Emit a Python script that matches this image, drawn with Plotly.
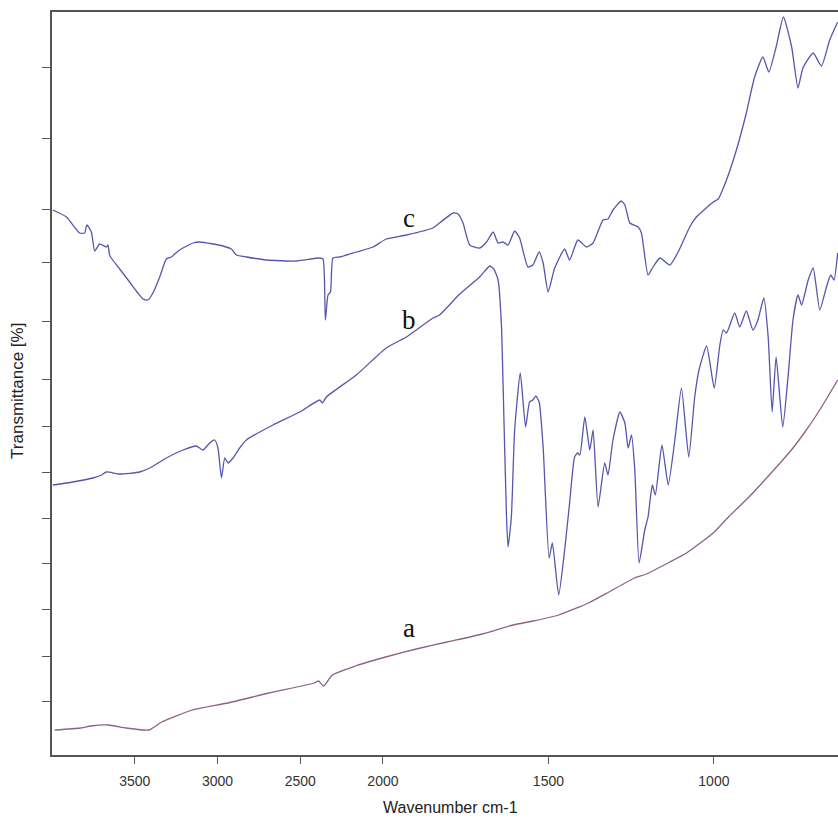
import plotly.graph_objects as go

# FTIR spectra (wavenumber in cm-1, transmittance in stacked arbitrary % units)
wn_c = [3995, 3913, 3833, 3803, 3789, 3762, 3742, 3712, 3672, 3662, 3652, 3642, 3591, 3531,
        3481, 3450, 3420, 3390, 3349, 3309, 3279, 3229, 3148, 3108, 3027, 2967, 2916, 2886,
        2825, 2704, 2523, 2382, 2362, 2348, 2332, 2317, 2302, 2261, 2160, 2060, 1990, 1929,
        1849, 1829, 1788, 1773, 1758, 1738, 1708, 1687, 1667, 1652, 1637, 1622, 1602, 1587,
        1562, 1547, 1528, 1516, 1501, 1481, 1451, 1436, 1411, 1385, 1365, 1335, 1320, 1305,
        1280, 1269, 1254, 1229, 1219, 1199, 1184, 1163, 1133, 1108, 1073, 1053, 1002, 987,
        962, 932, 902, 877, 852, 834, 812, 790, 765, 746, 731, 700, 675, 650, 626]
tr_c = [54.5, 53.8, 52.2, 52.2, 53.0, 52.3, 50.4, 51.1, 50.8, 51.0, 50.0, 49.7, 48.6, 47.3,
        46.2, 45.6, 45.5, 46.2, 47.8, 49.6, 49.8, 50.5, 51.2, 51.3, 51.1, 50.9, 50.6, 50.0,
        49.8, 49.5, 49.4, 49.7, 49.6, 43.5, 46.0, 46.3, 49.7, 49.8, 50.3, 50.8, 51.6, 52.0,
        52.7, 53.2, 54.2, 54.1, 53.2, 51.0, 50.7, 51.3, 52.3, 51.2, 51.3, 51.0, 52.4, 51.7,
        48.8, 49.0, 50.3, 49.2, 46.3, 48.7, 50.6, 49.5, 51.5, 50.8, 51.2, 53.5, 53.6, 54.5,
        55.4, 55.0, 53.2, 52.8, 52.2, 48.0, 48.8, 49.7, 49.0, 50.3, 52.8, 53.8, 55.3, 55.6,
        57.5, 60.5, 64.2, 67.8, 69.8, 68.3, 70.8, 73.8, 70.8, 66.7, 68.7, 70.2, 68.9, 71.5, 73.3]

wn_b = [3995, 3874, 3753, 3700, 3672, 3591, 3470, 3410, 3309, 3208, 3128, 3088, 3047, 3017,
        2997, 2976, 2956, 2936, 2906, 2866, 2825, 2665, 2503, 2382, 2366, 2342, 2161, 1990,
        1929, 1899, 1849, 1829, 1768, 1708, 1677, 1665, 1652, 1642, 1637, 1627, 1622, 1612,
        1602, 1585, 1569, 1557, 1547, 1538, 1528, 1516, 1498, 1488, 1469, 1451, 1436, 1421,
        1412, 1405, 1390, 1375, 1365, 1350, 1330, 1320, 1305, 1284, 1269, 1259, 1249, 1239,
        1226, 1209, 1199, 1186, 1177, 1157, 1138, 1118, 1098, 1076, 1058, 1045, 1022, 999,
        982, 972, 962, 937, 922, 902, 882, 867, 849, 836, 824, 812, 792, 776, 761, 746,
        735, 715, 700, 680, 660, 647, 637, 626]
tr_b = [27.0, 27.3, 27.7, 28.0, 28.3, 28.1, 28.3, 28.7, 29.7, 30.5, 30.9, 30.5, 31.2, 31.5,
        30.7, 27.7, 29.7, 29.2, 29.7, 30.7, 31.5, 33.0, 34.3, 35.5, 35.2, 35.8, 38.0, 40.7,
        41.8, 42.5, 43.7, 44.0, 46.1, 47.8, 48.9, 48.6, 47.5, 43.0, 37.0, 24.2, 20.8, 23.8,
        32.5, 38.2, 32.8, 35.3, 35.5, 35.9, 35.3, 30.8, 19.7, 21.2, 16.0, 20.5, 25.2, 29.8,
        30.2, 30.0, 33.8, 30.5, 32.5, 24.8, 29.2, 28.0, 31.5, 34.3, 33.2, 30.7, 32.0, 28.5,
        19.2, 22.5, 23.8, 27.0, 26.0, 31.0, 27.0, 31.5, 36.7, 29.8, 35.8, 38.5, 40.9, 36.7,
        41.0, 42.5, 42.2, 44.2, 42.8, 44.4, 42.5, 43.5, 45.7, 41.8, 34.3, 39.8, 32.8, 37.8,
        43.5, 46.0, 45.0, 47.5, 48.7, 44.5, 46.8, 48.0, 47.5, 50.2]

wn_a = [3983, 3829, 3767, 3660, 3552, 3414, 3337, 3152, 2937, 2690, 2414, 2389, 2358, 2306,
        2167, 1992, 1899, 1806, 1699, 1607, 1546, 1469, 1379, 1317, 1240, 1204, 1133, 1083,
        1002, 956, 900, 860, 800, 761, 725, 690, 660, 626]
tr_a = [2.5, 2.7, 2.9, 3.0, 2.7, 2.5, 3.3, 4.5, 5.2, 6.2, 7.2, 7.4, 6.9, 8.0,
        8.9, 9.8, 10.6, 11.3, 12.1, 13.0, 13.4, 14.0, 15.2, 16.3, 17.7, 18.1, 19.3, 20.2,
        22.2, 23.8, 25.6, 27.0, 29.2, 30.7, 32.3, 34.0, 35.6, 37.5]

x_tick_wn = [3500, 3000, 2500, 2000, 1500, 1000]
y_ticks = [68.8, 61.7, 54.6, 49.3, 43.4, 37.6, 32.9, 28.3, 23.7, 19.2, 14.6, 9.9, 5.4]
curve_labels = [("a", 1920, 12.7), ("b", 1920, 43.5), ("c", 1920, 53.7)]

WN_MAX, WN_MIN = 4000, 625


def wn_axis(w):
    """Instrument-style abscissa: the region below 2000 cm-1 is expanded two-fold."""
    return (4000 - w) if w >= 2000 else 2000 + 2 * (2000 - w)


fig = go.Figure()
for wn, tr, color in [(wn_a, tr_a, "#8e6088"), (wn_b, tr_b, "#5656ae"), (wn_c, tr_c, "#5656ae")]:
    fig.add_trace(go.Scatter(
        x=[wn_axis(w) for w in wn], y=tr, mode="lines",
        line=dict(color=color, width=1.3, shape="spline", smoothing=0.5),
        hoverinfo="skip", showlegend=False))

for text, w, t in curve_labels:
    fig.add_annotation(x=wn_axis(w), y=t, text=text, showarrow=False,
                       font=dict(family="Liberation Serif", size=27, color="#111"))

fig.add_annotation(xref="paper", yref="paper", x=0.507, y=0, yshift=-52,
                   xanchor="center", yanchor="middle",
                   text="Wavenumber cm-1", showarrow=False,
                   font=dict(family="Liberation Sans", size=16, color="#222"))
fig.add_annotation(xref="paper", yref="paper", x=0, xshift=-34, y=0.49,
                   xanchor="center", yanchor="middle",
                   text="Transmittance [%]", textangle=-90, showarrow=False,
                   font=dict(family="Liberation Sans", size=17, color="#222"))

fig.update_layout(
    width=838, height=820,
    margin=dict(l=52, r=0, t=12, b=65),
    paper_bgcolor="white", plot_bgcolor="white",
    xaxis=dict(range=[wn_axis(WN_MAX), wn_axis(WN_MIN)],
               tickvals=[wn_axis(w) for w in x_tick_wn],
               ticktext=[str(w) for w in x_tick_wn],
               showgrid=False, zeroline=False,
               showline=True, linecolor="#555", linewidth=1.5, mirror=True,
               ticks="outside", ticklen=7, tickcolor="#555", tickwidth=1.2,
               ticklabelstandoff=5,
               tickfont=dict(family="Liberation Sans", size=14, color="#333")),
    yaxis=dict(range=[0, 74.3], tickvals=y_ticks, showticklabels=False,
               showgrid=False, zeroline=False,
               showline=True, linecolor="#555", linewidth=1.5,
               ticks="outside", ticklen=8, tickcolor="#555", tickwidth=1.2),
)

fig.write_html("out.html")
